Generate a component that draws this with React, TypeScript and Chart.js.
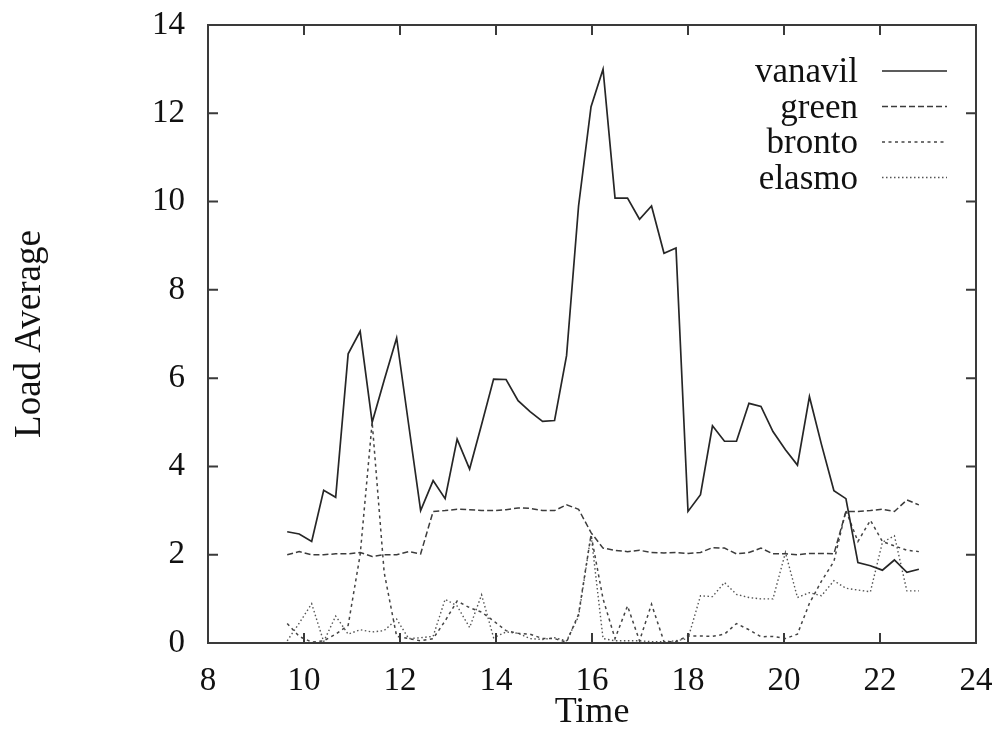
import React, { useEffect, useRef } from "react";
import { Chart, registerables } from "chart.js";

Chart.register(...registerables);

// Sample times (hours)
const times = [
  9.65, 9.9, 10.16, 10.41, 10.66, 10.92, 11.17, 11.42, 11.67, 11.93,
  12.18, 12.43, 12.69, 12.94, 13.19, 13.45, 13.7, 13.95, 14.21, 14.46,
  14.71, 14.97, 15.22, 15.47, 15.72, 15.98, 16.23, 16.48, 16.74, 16.99,
  17.24, 17.5, 17.75, 18.0, 18.26, 18.51, 18.76, 19.01, 19.27, 19.52,
  19.77, 20.03, 20.28, 20.53, 20.78, 21.04, 21.29, 21.54, 21.8, 22.05,
  22.3, 22.56, 22.81,
];

const vanavil = [
  2.52, 2.47, 2.3, 3.46, 3.3, 6.55, 7.06, 5.0, 5.95, 6.91,
  4.95, 3.0, 3.68, 3.27, 4.62, 3.94, 4.95, 5.98, 5.97, 5.49,
  5.24, 5.02, 5.04, 6.51, 9.9, 12.15, 13.0, 10.08, 10.08, 9.6,
  9.9, 8.83, 8.95, 2.98, 3.36, 4.92, 4.57, 4.57, 5.43, 5.36,
  4.79, 4.38, 4.03, 5.58, 4.5, 3.45, 3.27, 1.82, 1.75, 1.65,
  1.88, 1.6, 1.67,
];

const green = [
  2.0, 2.07, 2.0, 2.0, 2.02, 2.02, 2.05, 1.96, 2.0, 2.0,
  2.07, 2.02, 2.98, 3.0, 3.03, 3.02, 3.0, 3.0, 3.02, 3.06,
  3.05, 3.0, 3.0, 3.13, 3.03, 2.5, 2.15, 2.1, 2.07, 2.1,
  2.05, 2.04, 2.05, 2.03, 2.05, 2.16, 2.15, 2.02, 2.05, 2.15,
  2.02, 2.02, 2.0, 2.03, 2.03, 2.02, 2.98, 2.98, 3.0, 3.03,
  2.98, 3.24, 3.13,
];

const bronto = [
  0.44, 0.15, 0.02, 0.05, 0.2, 0.4, 2.0, 5.0, 1.6, 0.15,
  0.1, 0.05, 0.1, 0.5, 0.95, 0.8, 0.7, 0.5, 0.28, 0.22,
  0.2, 0.1, 0.1, 0.02, 0.65, 2.45, 1.0, 0.1, 0.84, 0.05,
  0.88, 0.03, 0.03, 0.16, 0.16, 0.15, 0.2, 0.44, 0.3, 0.14,
  0.15, 0.1, 0.2, 0.9, 1.4, 1.85, 3.0, 2.3, 2.78, 2.3,
  2.2, 2.1, 2.07,
];

const elasmo = [
  0.05, 0.45, 0.89, 0.03, 0.61, 0.2, 0.3, 0.25, 0.28, 0.54,
  0.1, 0.12, 0.15, 0.99, 0.84, 0.35, 1.09, 0.12, 0.25, 0.22,
  0.1, 0.08, 0.12, 0.05, 0.6, 2.45, 0.1, 0.05, 0.05, 0.05,
  0.03, 0.03, 0.05, 0.1, 1.07, 1.05, 1.37, 1.1, 1.03, 1.0,
  1.0, 2.05, 1.03, 1.14, 1.07, 1.41, 1.24, 1.2, 1.16, 2.28,
  2.43, 1.18, 1.18,
];

const seriesNames = ["vanavil", "green", "bronto", "elasmo"];
const xTicks = [8, 10, 12, 14, 16, 18, 20, 22, 24];
const yTicks = [0, 2, 4, 6, 8, 10, 12, 14];
const xTitle = "Time";
const yTitle = "Load Average";

const FONT = "'Liberation Serif', 'Times New Roman', Times, serif";

const framePlugin = {
  id: "gnuFrame",
  afterDatasetsDraw(chart: any) {
    const { ctx, chartArea } = chart;
    const xs = chart.scales.x;
    const ys = chart.scales.y;
    const { left, right, top, bottom } = chartArea;
    ctx.save();
    ctx.strokeStyle = "#3a3a3a";
    ctx.lineWidth = 2;
    ctx.setLineDash([]);
    ctx.strokeRect(left, top, right - left, bottom - top);
    const tl = 10;
    ctx.beginPath();
    xTicks.forEach((v) => {
      const px = xs.getPixelForValue(v);
      ctx.moveTo(px, bottom);
      ctx.lineTo(px, bottom - tl);
      ctx.moveTo(px, top);
      ctx.lineTo(px, top + tl);
    });
    yTicks.forEach((v) => {
      const py = ys.getPixelForValue(v);
      ctx.moveTo(left, py);
      ctx.lineTo(left + tl, py);
      ctx.moveTo(right, py);
      ctx.lineTo(right - tl, py);
    });
    ctx.stroke();

    // legend (gnuplot style: text right-aligned, sample to the right)
    const textRight = 858;
    const sx0 = 882;
    const sx1 = 947;
    const y0 = 71;
    const dy = 35.5;
    ctx.font = `35px ${FONT}`;
    ctx.textAlign = "right";
    ctx.textBaseline = "middle";
    chart.data.datasets.forEach((ds: any, i: number) => {
      const y = y0 + i * dy;
      ctx.fillStyle = "#111";
      ctx.fillText(ds.label, textRight, y + 2);
      ctx.beginPath();
      ctx.strokeStyle = ds.borderColor;
      ctx.lineWidth = ds.borderWidth;
      ctx.setLineDash(ds.borderDash || []);
      ctx.moveTo(sx0, y);
      ctx.lineTo(sx1, y);
      ctx.stroke();
    });
    ctx.restore();
  },
};

export default function App() {
  const ref = useRef<HTMLCanvasElement | null>(null);

  useEffect(() => {
    if (!ref.current) return;
    const mk = (vals: number[]) => times.map((t, i) => ({ x: t, y: vals[i] }));
    const styles = [
      { color: "#262626", width: 1.7, dash: [] as number[] },
      { color: "#3c3c3c", width: 1.5, dash: [6, 3] },
      { color: "#444444", width: 1.5, dash: [3, 3.5] },
      { color: "#555555", width: 1.4, dash: [1.5, 2.5] },
    ];
    const seriesData = [vanavil, green, bronto, elasmo];
    const chart = new Chart(ref.current, {
      type: "line",
      data: {
        datasets: seriesData.map((vals, i) => ({
          label: seriesNames[i],
          data: mk(vals),
          borderColor: styles[i].color,
          borderWidth: styles[i].width,
          borderDash: styles[i].dash,
          pointRadius: 0,
          tension: 0,
          fill: false,
        })),
      },
      options: {
        responsive: false,
        animation: false,
        devicePixelRatio: 1,
        layout: { padding: { top: 25, right: 25, left: 0, bottom: 0 } },
        plugins: {
          legend: { display: false },
          tooltip: { enabled: false },
        },
        scales: {
          x: {
            type: "linear",
            min: 8,
            max: 24,
            afterBuildTicks: (s: any) => {
              s.ticks = xTicks.map((v) => ({ value: v }));
            },
            afterFit: (s: any) => {
              s.height = 91;
              s.paddingLeft = 0;
              s.paddingRight = 0;
            },
            grid: { display: false, drawTicks: false },
            border: { display: false },
            ticks: {
              autoSkip: false,
              maxRotation: 0,
              padding: 19,
              color: "#111",
              font: { family: FONT, size: 33 },
            },
            title: {
              display: true,
              text: xTitle,
              color: "#111",
              font: { family: FONT, size: 36 },
              padding: { top: 0, bottom: 0 },
            },
          },
          y: {
            type: "linear",
            min: 0,
            max: 14,
            afterBuildTicks: (s: any) => {
              s.ticks = yTicks.map((v) => ({ value: v }));
            },
            afterFit: (s: any) => {
              s.width = 208;
              s.paddingTop = 0;
              s.paddingBottom = 0;
            },
            grid: { display: false, drawTicks: false },
            border: { display: false },
            ticks: {
              autoSkip: false,
              padding: 23,
              color: "#111",
              font: { family: FONT, size: 33 },
            },
            title: {
              display: true,
              text: yTitle,
              color: "#111",
              font: { family: FONT, size: 37 },
              padding: { top: 8, bottom: 0 },
            },
          },
        },
      },
      plugins: [framePlugin],
    } as any);
    return () => chart.destroy();
  }, []);

  return (
    <div style={{ position: "absolute", left: 0, top: 0, width: 1001, height: 734, background: "#fff" }}>
      <canvas ref={ref} width={1001} height={734} style={{ width: 1001, height: 734, display: "block" }} />
    </div>
  );
}
